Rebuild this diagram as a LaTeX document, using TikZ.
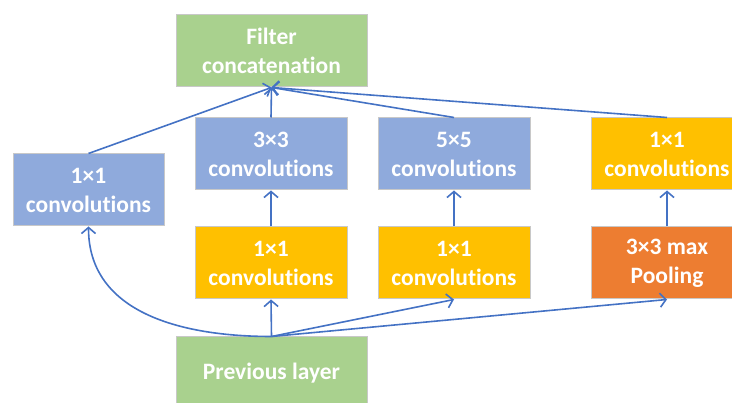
\documentclass[tikz,border=0pt]{standalone}
\usepackage{fontspec}
\setmainfont[Ligatures=NoCommon]{Carlito}
\usetikzlibrary{arrows.meta}
\definecolor{boxblue}{HTML}{8FAADC}
\definecolor{boxyellow}{HTML}{FFC000}
\definecolor{boxorange}{HTML}{ED7D31}
\definecolor{boxgreen}{HTML}{A9D18E}
\definecolor{linkblue}{HTML}{4472C4}
\definecolor{boxedge}{HTML}{C8C8C8}
\tikzset{
  layer/.style={draw=boxedge, line width=1pt, minimum height=72pt, minimum width=152pt,
    inner sep=0pt, align=center, text=white,
    font=\fontsize{23.5}{29}\selectfont\bfseries},
  wide/.style={minimum width=191pt},
  link/.style={draw=linkblue, line width=1.6pt, -{Straight Barb[length=6pt,width=14pt,line width=1.6pt]}}
}
\begin{document}
\begin{tikzpicture}[x=1pt,y=-1pt]
\useasboundingbox (0,0) rectangle (732,403);
\clip (0,0) rectangle (732,403);
\node[layer, wide, fill=boxgreen] (fc) at (271.5,51) {Filter\\concatenation};
\node[layer, fill=boxblue, minimum width=151pt] (l1) at (88.5,190) {1×1\\convolutions};
\node[layer, fill=boxblue] (c3) at (271,154) {3×3\\convolutions};
\node[layer, fill=boxblue] (c5) at (454,154) {5×5\\convolutions};
\node[layer, fill=boxyellow] (r1) at (667,154) {1×1\\convolutions};
\node[layer, fill=boxyellow] (m1) at (271,263) {1×1\\convolutions};
\node[layer, fill=boxyellow] (m2) at (454,263) {1×1\\convolutions};
\node[layer, fill=boxorange] (pool) at (667,263) {3×3 max\\Pooling};
\node[layer, wide, fill=boxgreen] (prev) at (271.5,373) {Previous layer};

\draw[link] (l1.north) -- (fc.south);
\draw[link] (c3.north) -- (fc.south);
\draw[link] (c5.north) -- (fc.south);
\draw[link] (r1.north) -- (fc.south);
\draw[link] (m1.north) -- (c3.south);
\draw[link] (m2.north) -- (c5.south);
\draw[link] (pool.north) -- (r1.south);
\draw[link] (prev.north) -- (m1.south);
\draw[link] (prev.north) -- (m2.south);
\draw[link] (prev.north) -- (pool.south);
\draw[link] (prev.north) to[out=180,in=-90,looseness=1.05] (l1.south);
\end{tikzpicture}
\end{document}
